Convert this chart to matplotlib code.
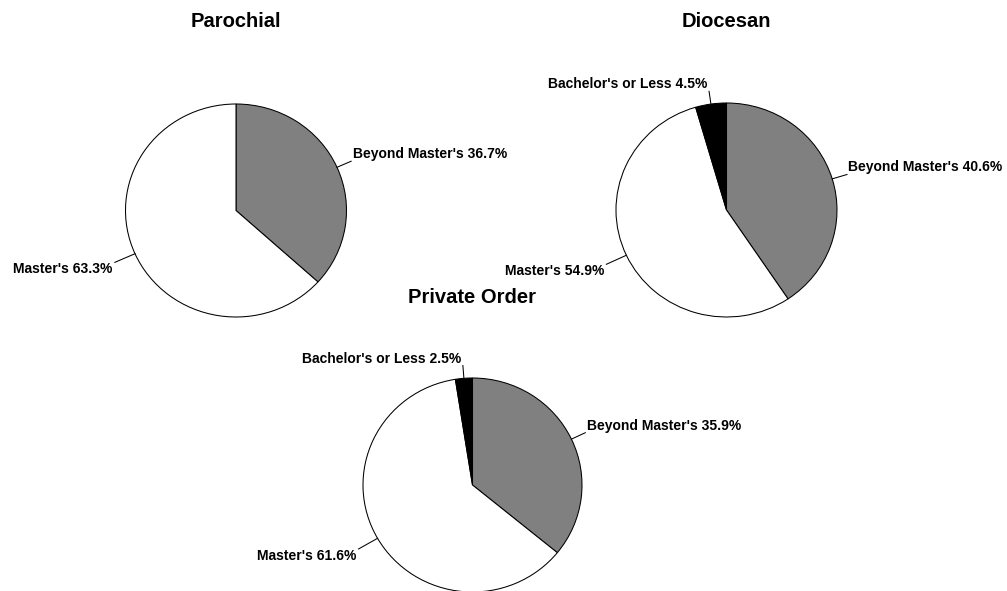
import numpy as np
import matplotlib
matplotlib.use("Agg")
import matplotlib.pyplot as plt

plt.rcParams['font.family'] = ['Liberation Sans', 'DejaVu Sans']

# data (percent)
groups = ["Parochial", "Diocesan", "Private Order"]
categories = ["Beyond Master's", "Master's", "Bachelor's or Less"]
parochial = [36.7, 63.3, 0.0]
diocesan = [40.6, 54.9, 4.5]
private_order = [35.9, 61.6, 2.5]
values = [parochial, diocesan, private_order]

colors = ["#808080", "#ffffff", "#000000"]
leader = [1.14, 1.2, 1.12]  # leader line length (fraction of radius) per category

W, H = 1007, 591
fig = plt.figure(figsize=(W / 100, H / 100), dpi=100)
fig.patch.set_facecolor("white")

# pie boxes in pixels: center x, center y, half width, half height
boxes = [(236, 210.5, 110.5, 106.5),
         (726.5, 210, 110.5, 107),
         (472.5, 485, 109.5, 107)]
title_y = [27, 27, 303]

for g, vals, (cx, cy, rx, ry), ty in zip(groups, values, boxes, title_y):
    ax = fig.add_axes([(cx - rx) / W, 1 - (cy + ry) / H, 2 * rx / W, 2 * ry / H])
    keep = [i for i, v in enumerate(vals) if v > 0]
    v = [vals[i] for i in keep]
    wedges, _ = ax.pie(v, colors=[colors[i] for i in keep], startangle=90,
                       counterclock=False,
                       wedgeprops=dict(edgecolor="black", linewidth=0.75))
    for w in wedges:
        w.set_clip_on(False)
    ax.set_aspect("auto")
    ax.set_xlim(-1, 1)
    ax.set_ylim(-1, 1)
    ax.axis("off")

    for w, i in zip(wedges, keep):
        ang = np.deg2rad((w.theta1 + w.theta2) / 2)
        c, s = np.cos(ang), np.sin(ang)
        r2 = leader[i]
        ax.plot([c, r2 * c], [s, r2 * s], color="black", lw=0.75, clip_on=False)
        ax.annotate("%s %.1f%%" % (categories[i], vals[i]), xy=(r2 * c, r2 * s),
                    xytext=(1 if c > 0 else -1.5, 0), textcoords="offset points",
                    ha="left" if c > 0 else "right",
                    va="bottom" if s > 0 else "top",
                    fontsize=10, fontweight="bold", annotation_clip=False)

    fig.text(cx / W, 1 - ty / H, g, ha="center", va="baseline",
             fontsize=14.5, fontweight="bold")

fig.savefig("out.png", dpi=100, facecolor="white")
